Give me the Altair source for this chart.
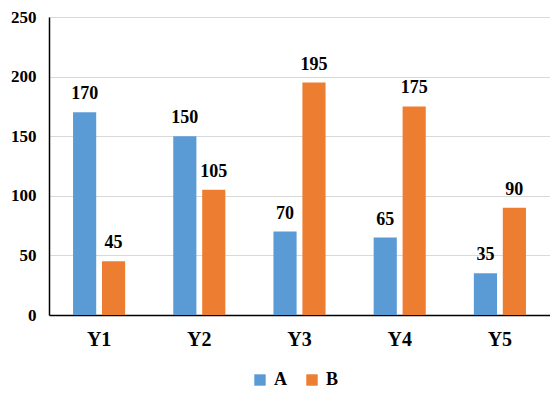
import altair as alt
import pandas as pd

years = ["Y1", "Y2", "Y3", "Y4", "Y5"]
series_a = [170, 150, 70, 65, 35]
series_b = [45, 105, 195, 175, 90]

rows = []
for y, a, b in zip(years, series_a, series_b):
    rows.append({"year": y, "series": "A", "value": a})
    rows.append({"year": y, "series": "B", "value": b})
df = pd.DataFrame(rows)

FONT = "Liberation Serif"

x = alt.X("year:N", sort=years, title=None,
          scale=alt.Scale(paddingInner=0.48, paddingOuter=0.24),
          axis=alt.Axis(labelAngle=0, labelFont=FONT, labelFontSize=20, labelFontWeight="bold",
                        labelColor="black", labelPadding=14, ticks=False,
                        domainColor="black", domainWidth=1.5))
xo = alt.XOffset("series:N", scale=alt.Scale(paddingInner=0.2))
y = alt.Y("value:Q", title=None,
          scale=alt.Scale(domain=[0, 250]),
          axis=alt.Axis(values=[0, 50, 100, 150, 200, 250], labelFont=FONT, labelFontSize=17,
                        labelFontWeight="bold", labelColor="black", labelPadding=13, ticks=False,
                        domainColor="black", domainWidth=1.5, gridColor="#d9d9d9", gridWidth=1))
color = alt.Color("series:N", scale=alt.Scale(domain=["A", "B"], range=["#5b9bd5", "#ed7d31"]),
                  legend=alt.Legend(title=None, orient="none", direction="horizontal",
                                    legendX=202, legendY=354, padding=0, symbolType="square",
                                    symbolSize=130, symbolStrokeWidth=0, labelFont=FONT,
                                    labelFontSize=18, labelFontWeight="bold", labelColor="black",
                                    columnPadding=16, labelOffset=5))

bars = alt.Chart(df).mark_bar().encode(x=x, xOffset=xo, y=y, color=color)
labels = alt.Chart(df).mark_text(baseline="bottom", dy=-9, font=FONT, fontSize=18,
                                 fontWeight="bold", color="black").encode(
    x=x, xOffset=xo, y=y, text="value:Q")

chart = (bars + labels).properties(
    width=501, height=298,
    autosize=alt.AutoSizeParams(type="none"),
    padding={"left": 41, "top": 9, "right": 0, "bottom": 73},
).configure_view(stroke=None)

chart.save("out.html", embed_options={"renderer": "svg", "actions": False})
